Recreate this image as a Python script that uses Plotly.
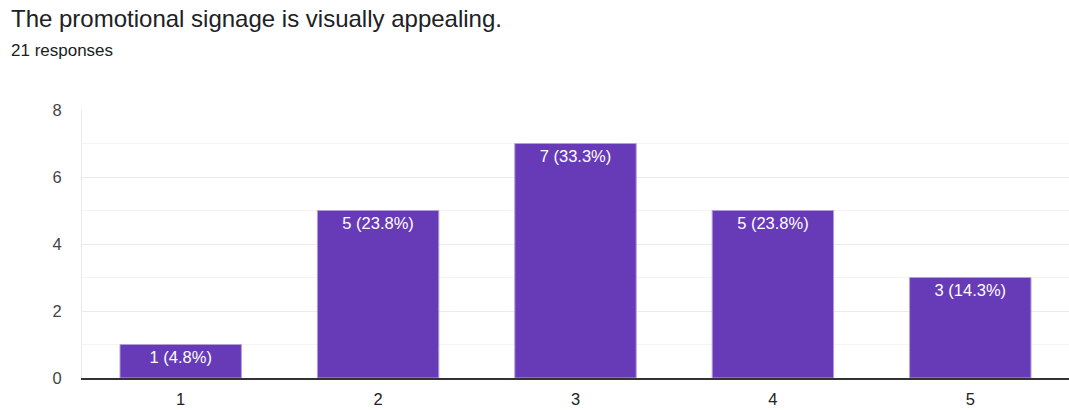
import plotly.graph_objects as go

categories = ["1", "2", "3", "4", "5"]
counts = [1, 5, 7, 5, 3]
percents = ["4.8%", "23.8%", "33.3%", "23.8%", "14.3%"]
y_ticks = [0, 2, 4, 6, 8]

labels = [f"{c} ({p})" for c, p in zip(counts, percents)]
FONT = "Liberation Sans, Arial, sans-serif"

fig = go.Figure()
fig.add_trace(go.Bar(
    x=categories, y=counts, text=labels,
    textposition="inside", insidetextanchor="end",
    textfont=dict(family=FONT, size=16.5, color="white"),
    marker=dict(color="#673ab7", line=dict(color="#b39ddb", width=1)),
    width=0.615, cliponaxis=False,
))

fig.update_layout(
    width=1069, height=410,
    margin=dict(l=82, r=0, t=110, b=32),
    paper_bgcolor="white", plot_bgcolor="white",
    showlegend=False,
    font=dict(family=FONT, color="#444444"),
    uniformtext=dict(mode="show", minsize=16),
)
fig.update_xaxes(
    type="category", showgrid=False, ticks="",
    tickfont=dict(family=FONT, size=16.5, color="#222222"),
    showline=True, linecolor="#333333", linewidth=1.5,
    ticklabelstandoff=5,
)
fig.update_yaxes(
    range=[0, 8], tickvals=y_ticks, showgrid=True, gridcolor="#ebebeb", gridwidth=1,
    minor=dict(dtick=1, showgrid=True, gridcolor="#f4f4f4", gridwidth=1),
    zeroline=False, showline=True, linecolor="#ebebeb", linewidth=1,
    tickfont=dict(family=FONT, size=16.5, color="#444444"), ticks="", ticklabelstandoff=16,
)

fig.add_annotation(text="The promotional signage is visually appealing.", xref="paper", yref="paper",
                   x=-73/987, y=1 + (110 - 19) / 268, xanchor="left", yanchor="middle",
                   showarrow=False, font=dict(family=FONT, size=24, color="#202124"))
fig.add_annotation(text="21 responses", xref="paper", yref="paper",
                   x=-73/987, y=1 + (110 - 50) / 268, xanchor="left", yanchor="middle",
                   showarrow=False, font=dict(family=FONT, size=17, color="#202124"))

fig.write_html("out.html")
